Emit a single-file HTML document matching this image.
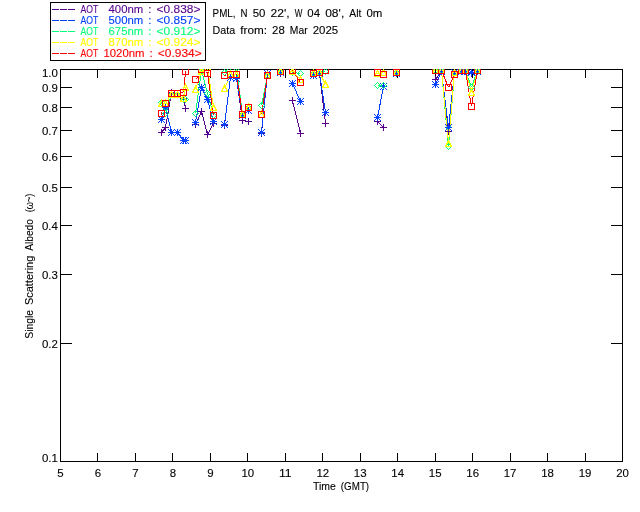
<!DOCTYPE html>
<html><head><meta charset="utf-8"><title>Single Scattering Albedo</title>
<style>html,body{margin:0;padding:0;background:#fff;overflow:hidden}svg{display:block}text{font-family:"Liberation Sans",sans-serif;text-anchor:start}</style></head><body>
<svg width="640" height="512" viewBox="0 0 640 512">
<rect width="640" height="512" fill="#fff"/>
<defs><clipPath id="pc"><rect x="60" y="69" width="563" height="393"/></clipPath></defs>
<path fill="none" stroke="#000" stroke-width="1" shape-rendering="crispEdges" d="M60.5 69.5H622.5V461.5H60.5ZM97.5 69V78M97.5 462V453M135.5 69V78M135.5 462V453M172.5 69V78M172.5 462V453M210.5 69V78M210.5 462V453M247.5 69V78M247.5 462V453M285.5 69V78M285.5 462V453M322.5 69V78M322.5 462V453M360.5 69V78M360.5 462V453M397.5 69V78M397.5 462V453M435.5 69V78M435.5 462V453M472.5 69V78M472.5 462V453M510.5 69V78M510.5 462V453M547.5 69V78M547.5 462V453M585.5 69V78M585.5 462V453M60 343.5H72M623 343.5H611M60 274.5H72M623 274.5H611M60 225.5H72M623 225.5H611M60 187.5H72M623 187.5H611M60 156.5H72M623 156.5H611M60 130.5H72M623 130.5H611M60 107.5H72M623 107.5H611M60 87.5H72M623 87.5H611"/>
<g clip-path="url(#pc)" fill="none" stroke-width="1" shape-rendering="crispEdges">
<path stroke="#56008e" d="M161.5 132.5L165.5 127.5M165.5 127.5L171.5 92.5M171.5 92.5L177.5 94.5M177.5 94.5L183.5 98.5M183.5 98.5L185.5 108.5M195.5 124.5L201.5 111.5M201.5 111.5L207.5 134.5M207.5 134.5L213.5 123.5M224.5 125.5L230.5 77.5M230.5 77.5L236.5 78.5M236.5 78.5L242.5 120.5M242.5 120.5L248.5 121.5M261.5 133.5L267.5 73.5M292.5 100.5L300.5 133.5M313.5 74.5L319.5 73.5M319.5 73.5L325.5 123.5M377.5 121.5L383.5 127.5M435.5 79.5L441.5 71.5M441.5 71.5L448.5 131.5M448.5 131.5L454.5 72.5M454.5 72.5L461.5 71.5M461.5 71.5L465.5 71.5M465.5 71.5L471.5 73.5M471.5 73.5L477.5 71.5"/>
<path stroke="#0040ff" d="M161.5 119.5L165.5 107.5M165.5 107.5L171.5 132.5M171.5 132.5L177.5 132.5M177.5 132.5L183.5 140.5M183.5 140.5L185.5 140.5M195.5 122.5L201.5 87.5M201.5 87.5L207.5 99.5M207.5 99.5L213.5 121.5M224.5 124.5L230.5 77.5M230.5 77.5L236.5 78.5M236.5 78.5L242.5 115.5M242.5 115.5L248.5 110.5M261.5 132.5L267.5 73.5M292.5 83.5L300.5 101.5M313.5 75.5L319.5 73.5M319.5 73.5L325.5 112.5M377.5 117.5L383.5 86.5M435.5 84.5L441.5 71.5M441.5 71.5L448.5 127.5M448.5 127.5L454.5 72.5M454.5 72.5L461.5 71.5M461.5 71.5L465.5 71.5M465.5 71.5L471.5 72.5M471.5 72.5L477.5 71.5"/>
<path stroke="#00ff78" d="M161.5 102.5L165.5 113.5M165.5 113.5L171.5 94.5M171.5 94.5L177.5 94.5M177.5 94.5L183.5 99.5M183.5 99.5L185.5 99.5M195.5 113.5L201.5 70.5M201.5 70.5L207.5 93.5M207.5 93.5L213.5 115.5M224.5 72.5L230.5 66.5M230.5 66.5L236.5 68.5M236.5 68.5L242.5 114.5M242.5 114.5L248.5 107.5M261.5 105.5L267.5 75.5M292.5 72.5L300.5 73.5M313.5 73.5L319.5 72.5M319.5 72.5L325.5 71.5M377.5 85.5L383.5 85.5M435.5 70.5L441.5 70.5M441.5 70.5L448.5 146.5M448.5 146.5L454.5 72.5M454.5 72.5L461.5 70.5M461.5 70.5L465.5 70.5M465.5 70.5L471.5 87.5M471.5 87.5L477.5 70.5"/>
<path stroke="#ffff00" d="M161.5 103.5L165.5 103.5M165.5 103.5L171.5 94.5M171.5 94.5L177.5 94.5M177.5 94.5L183.5 98.5M183.5 98.5L185.5 87.5M195.5 89.5L201.5 71.5M201.5 71.5L207.5 67.5M207.5 67.5L213.5 107.5M224.5 88.5L230.5 74.5M230.5 74.5L236.5 74.5M236.5 74.5L242.5 114.5M242.5 114.5L248.5 107.5M261.5 114.5L267.5 75.5M292.5 71.5L300.5 79.5M313.5 73.5L319.5 72.5M319.5 72.5L325.5 84.5M377.5 73.5L383.5 72.5M435.5 70.5L441.5 70.5M441.5 70.5L448.5 143.5M448.5 143.5L454.5 72.5M454.5 72.5L461.5 70.5M461.5 70.5L465.5 70.5M465.5 70.5L471.5 92.5M471.5 92.5L477.5 70.5"/>
<path stroke="#ff0000" d="M177.5 93.5L183.5 92.5M183.5 92.5L185.5 71.5M207.5 73.5L213.5 115.5M236.5 74.5L242.5 114.5M242.5 114.5L248.5 107.5M261.5 114.5L267.5 75.5M292.5 70.5L300.5 82.5M441.5 70.5L448.5 87.5M448.5 87.5L454.5 74.5M465.5 70.5L471.5 106.5M471.5 106.5L477.5 70.5"/>
<path stroke="#56008e" d="M158 132.5H165M161.5 129V136M162 127.5H169M165.5 124V131M168 92.5H175M171.5 89V96M174 94.5H181M177.5 91V98M180 98.5H187M183.5 95V102M182 108.5H189M185.5 105V112M192 124.5H199M195.5 121V128M198 111.5H205M201.5 108V115M204 134.5H211M207.5 131V138M210 123.5H217M213.5 120V127M221 125.5H228M224.5 122V129M227 77.5H234M230.5 74V81M233 78.5H240M236.5 75V82M239 120.5H246M242.5 117V124M245 121.5H252M248.5 118V125M258 133.5H265M261.5 130V137M264 73.5H271M267.5 70V77M277 73.5H284M280.5 70V77M289 100.5H296M292.5 97V104M297 133.5H304M300.5 130V137M310 74.5H317M313.5 71V78M316 73.5H323M319.5 70V77M322 123.5H329M325.5 120V127M374 121.5H381M377.5 118V125M380 127.5H387M383.5 124V131M393 73.5H400M396.5 70V77M432 79.5H439M435.5 76V83M438 71.5H445M441.5 68V75M445 131.5H452M448.5 128V135M451 72.5H458M454.5 69V76M458 71.5H465M461.5 68V75M462 71.5H469M465.5 68V75M468 73.5H475M471.5 70V77M474 71.5H481M477.5 68V75"/>
<path stroke="#0040ff" d="M158 119.5H165M161.5 116V123M158 116L165 123M158 123L165 116M162 107.5H169M165.5 104V111M162 104L169 111M162 111L169 104M168 132.5H175M171.5 129V136M168 129L175 136M168 136L175 129M174 132.5H181M177.5 129V136M174 129L181 136M174 136L181 129M180 140.5H187M183.5 137V144M180 137L187 144M180 144L187 137M182 140.5H189M185.5 137V144M182 137L189 144M182 144L189 137M192 122.5H199M195.5 119V126M192 119L199 126M192 126L199 119M198 87.5H205M201.5 84V91M198 84L205 91M198 91L205 84M204 99.5H211M207.5 96V103M204 96L211 103M204 103L211 96M210 121.5H217M213.5 118V125M210 118L217 125M210 125L217 118M221 124.5H228M224.5 121V128M221 121L228 128M221 128L228 121M227 77.5H234M230.5 74V81M227 74L234 81M227 81L234 74M233 78.5H240M236.5 75V82M233 75L240 82M233 82L240 75M239 115.5H246M242.5 112V119M239 112L246 119M239 119L246 112M245 110.5H252M248.5 107V114M245 107L252 114M245 114L252 107M258 132.5H265M261.5 129V136M258 129L265 136M258 136L265 129M264 73.5H271M267.5 70V77M264 70L271 77M264 77L271 70M277 72.5H284M280.5 69V76M277 69L284 76M277 76L284 69M289 83.5H296M292.5 80V87M289 80L296 87M289 87L296 80M297 101.5H304M300.5 98V105M297 98L304 105M297 105L304 98M310 75.5H317M313.5 72V79M310 72L317 79M310 79L317 72M316 73.5H323M319.5 70V77M316 70L323 77M316 77L323 70M322 112.5H329M325.5 109V116M322 109L329 116M322 116L329 109M374 117.5H381M377.5 114V121M374 114L381 121M374 121L381 114M380 86.5H387M383.5 83V90M380 83L387 90M380 90L387 83M393 73.5H400M396.5 70V77M393 70L400 77M393 77L400 70M432 84.5H439M435.5 81V88M432 81L439 88M432 88L439 81M438 71.5H445M441.5 68V75M438 68L445 75M438 75L445 68M445 127.5H452M448.5 124V131M445 124L452 131M445 131L452 124M451 72.5H458M454.5 69V76M451 69L458 76M451 76L458 69M458 71.5H465M461.5 68V75M458 68L465 75M458 75L465 68M462 71.5H469M465.5 68V75M462 68L469 75M462 75L469 68M468 72.5H475M471.5 69V76M468 69L475 76M468 76L475 69M474 71.5H481M477.5 68V75M474 68L481 75M474 75L481 68"/>
<path stroke="#00ff78" d="M161.5 99.5L164.5 102.5L161.5 105.5L158.5 102.5ZM165.5 110.5L168.5 113.5L165.5 116.5L162.5 113.5ZM171.5 91.5L174.5 94.5L171.5 97.5L168.5 94.5ZM177.5 91.5L180.5 94.5L177.5 97.5L174.5 94.5ZM183.5 96.5L186.5 99.5L183.5 102.5L180.5 99.5ZM185.5 96.5L188.5 99.5L185.5 102.5L182.5 99.5ZM195.5 110.5L198.5 113.5L195.5 116.5L192.5 113.5ZM201.5 67.5L204.5 70.5L201.5 73.5L198.5 70.5ZM207.5 90.5L210.5 93.5L207.5 96.5L204.5 93.5ZM213.5 112.5L216.5 115.5L213.5 118.5L210.5 115.5ZM224.5 69.5L227.5 72.5L224.5 75.5L221.5 72.5ZM230.5 63.5L233.5 66.5L230.5 69.5L227.5 66.5ZM236.5 65.5L239.5 68.5L236.5 71.5L233.5 68.5ZM242.5 111.5L245.5 114.5L242.5 117.5L239.5 114.5ZM248.5 104.5L251.5 107.5L248.5 110.5L245.5 107.5ZM261.5 102.5L264.5 105.5L261.5 108.5L258.5 105.5ZM267.5 72.5L270.5 75.5L267.5 78.5L264.5 75.5ZM280.5 68.5L283.5 71.5L280.5 74.5L277.5 71.5ZM292.5 69.5L295.5 72.5L292.5 75.5L289.5 72.5ZM300.5 70.5L303.5 73.5L300.5 76.5L297.5 73.5ZM313.5 70.5L316.5 73.5L313.5 76.5L310.5 73.5ZM319.5 69.5L322.5 72.5L319.5 75.5L316.5 72.5ZM325.5 68.5L328.5 71.5L325.5 74.5L322.5 71.5ZM377.5 82.5L380.5 85.5L377.5 88.5L374.5 85.5ZM383.5 82.5L386.5 85.5L383.5 88.5L380.5 85.5ZM396.5 69.5L399.5 72.5L396.5 75.5L393.5 72.5ZM435.5 67.5L438.5 70.5L435.5 73.5L432.5 70.5ZM441.5 67.5L444.5 70.5L441.5 73.5L438.5 70.5ZM448.5 143.5L451.5 146.5L448.5 149.5L445.5 146.5ZM454.5 69.5L457.5 72.5L454.5 75.5L451.5 72.5ZM461.5 67.5L464.5 70.5L461.5 73.5L458.5 70.5ZM465.5 67.5L468.5 70.5L465.5 73.5L462.5 70.5ZM471.5 84.5L474.5 87.5L471.5 90.5L468.5 87.5ZM477.5 67.5L480.5 70.5L477.5 73.5L474.5 70.5Z"/>
<path stroke="#ffff00" d="M161.5 100.5L164.5 106.5L158.5 106.5ZM165.5 100.5L168.5 106.5L162.5 106.5ZM171.5 91.5L174.5 97.5L168.5 97.5ZM177.5 91.5L180.5 97.5L174.5 97.5ZM183.5 95.5L186.5 101.5L180.5 101.5ZM185.5 84.5L188.5 90.5L182.5 90.5ZM195.5 86.5L198.5 92.5L192.5 92.5ZM201.5 68.5L204.5 74.5L198.5 74.5ZM207.5 64.5L210.5 70.5L204.5 70.5ZM213.5 104.5L216.5 110.5L210.5 110.5ZM224.5 85.5L227.5 91.5L221.5 91.5ZM230.5 71.5L233.5 77.5L227.5 77.5ZM236.5 71.5L239.5 77.5L233.5 77.5ZM242.5 111.5L245.5 117.5L239.5 117.5ZM248.5 104.5L251.5 110.5L245.5 110.5ZM261.5 111.5L264.5 117.5L258.5 117.5ZM267.5 72.5L270.5 78.5L264.5 78.5ZM280.5 68.5L283.5 74.5L277.5 74.5ZM292.5 68.5L295.5 74.5L289.5 74.5ZM300.5 76.5L303.5 82.5L297.5 82.5ZM313.5 70.5L316.5 76.5L310.5 76.5ZM319.5 69.5L322.5 75.5L316.5 75.5ZM325.5 81.5L328.5 87.5L322.5 87.5ZM377.5 70.5L380.5 76.5L374.5 76.5ZM383.5 69.5L386.5 75.5L380.5 75.5ZM396.5 69.5L399.5 75.5L393.5 75.5ZM435.5 67.5L438.5 73.5L432.5 73.5ZM441.5 67.5L444.5 73.5L438.5 73.5ZM448.5 140.5L451.5 146.5L445.5 146.5ZM454.5 69.5L457.5 75.5L451.5 75.5ZM461.5 67.5L464.5 73.5L458.5 73.5ZM465.5 67.5L468.5 73.5L462.5 73.5ZM471.5 89.5L474.5 95.5L468.5 95.5ZM477.5 67.5L480.5 73.5L474.5 73.5Z"/>
<path stroke="#ff0000" d="M158.5 110.5H164.5V116.5H158.5ZM162.5 100.5H168.5V106.5H162.5ZM168.5 90.5H174.5V96.5H168.5ZM174.5 90.5H180.5V96.5H174.5ZM180.5 89.5H186.5V95.5H180.5ZM182.5 68.5H188.5V74.5H182.5ZM192.5 76.5H198.5V82.5H192.5ZM198.5 66.5H204.5V72.5H198.5ZM204.5 70.5H210.5V76.5H204.5ZM210.5 112.5H216.5V118.5H210.5ZM221.5 72.5H227.5V78.5H221.5ZM227.5 71.5H233.5V77.5H227.5ZM233.5 71.5H239.5V77.5H233.5ZM239.5 111.5H245.5V117.5H239.5ZM245.5 104.5H251.5V110.5H245.5ZM258.5 111.5H264.5V117.5H258.5ZM264.5 72.5H270.5V78.5H264.5ZM277.5 68.5H283.5V74.5H277.5ZM289.5 67.5H295.5V73.5H289.5ZM297.5 79.5H303.5V85.5H297.5ZM310.5 70.5H316.5V76.5H310.5ZM316.5 69.5H322.5V75.5H316.5ZM322.5 67.5H328.5V73.5H322.5ZM374.5 69.5H380.5V75.5H374.5ZM380.5 71.5H386.5V77.5H380.5ZM393.5 69.5H399.5V75.5H393.5ZM432.5 67.5H438.5V73.5H432.5ZM438.5 67.5H444.5V73.5H438.5ZM445.5 84.5H451.5V90.5H445.5ZM451.5 71.5H457.5V77.5H451.5ZM458.5 67.5H464.5V73.5H458.5ZM462.5 67.5H468.5V73.5H462.5ZM468.5 103.5H474.5V109.5H468.5ZM474.5 67.5H480.5V73.5H474.5Z"/>
<path stroke="#ff0000" d="M195.5 79.5L197.5 77.5M206 72.5H208.5M224 75.5H226M161.5 112V115"/>
</g>
<g transform="translate(60.5 477)" fill="#000" stroke="#000" stroke-width="0.1" font-size="10.4"><text x="-3.18" y="0" textLength="6.36" lengthAdjust="spacingAndGlyphs">5</text></g>
<g transform="translate(97.97 477)" fill="#000" stroke="#000" stroke-width="0.1" font-size="10.4"><text x="-3.18" y="0" textLength="6.36" lengthAdjust="spacingAndGlyphs">6</text></g>
<g transform="translate(135.43 477)" fill="#000" stroke="#000" stroke-width="0.1" font-size="10.4"><text x="-3.18" y="0" textLength="6.36" lengthAdjust="spacingAndGlyphs">7</text></g>
<g transform="translate(172.9 477)" fill="#000" stroke="#000" stroke-width="0.1" font-size="10.4"><text x="-3.18" y="0" textLength="6.36" lengthAdjust="spacingAndGlyphs">8</text></g>
<g transform="translate(210.37 477)" fill="#000" stroke="#000" stroke-width="0.1" font-size="10.4"><text x="-3.18" y="0" textLength="6.36" lengthAdjust="spacingAndGlyphs">9</text></g>
<g transform="translate(247.83 477)" fill="#000" stroke="#000" stroke-width="0.1" font-size="10.4"><text x="-6.36" y="0" textLength="12.72" lengthAdjust="spacingAndGlyphs">10</text></g>
<g transform="translate(285.3 477)" fill="#000" stroke="#000" stroke-width="0.1" font-size="10.4"><text x="-6.36" y="0" textLength="12.72" lengthAdjust="spacingAndGlyphs">11</text></g>
<g transform="translate(322.77 477)" fill="#000" stroke="#000" stroke-width="0.1" font-size="10.4"><text x="-6.36" y="0" textLength="12.72" lengthAdjust="spacingAndGlyphs">12</text></g>
<g transform="translate(360.23 477)" fill="#000" stroke="#000" stroke-width="0.1" font-size="10.4"><text x="-6.36" y="0" textLength="12.72" lengthAdjust="spacingAndGlyphs">13</text></g>
<g transform="translate(397.7 477)" fill="#000" stroke="#000" stroke-width="0.1" font-size="10.4"><text x="-6.36" y="0" textLength="12.72" lengthAdjust="spacingAndGlyphs">14</text></g>
<g transform="translate(435.17 477)" fill="#000" stroke="#000" stroke-width="0.1" font-size="10.4"><text x="-6.36" y="0" textLength="12.72" lengthAdjust="spacingAndGlyphs">15</text></g>
<g transform="translate(472.63 477)" fill="#000" stroke="#000" stroke-width="0.1" font-size="10.4"><text x="-6.36" y="0" textLength="12.72" lengthAdjust="spacingAndGlyphs">16</text></g>
<g transform="translate(510.1 477)" fill="#000" stroke="#000" stroke-width="0.1" font-size="10.4"><text x="-6.36" y="0" textLength="12.72" lengthAdjust="spacingAndGlyphs">17</text></g>
<g transform="translate(547.57 477)" fill="#000" stroke="#000" stroke-width="0.1" font-size="10.4"><text x="-6.36" y="0" textLength="12.72" lengthAdjust="spacingAndGlyphs">18</text></g>
<g transform="translate(585.03 477)" fill="#000" stroke="#000" stroke-width="0.1" font-size="10.4"><text x="-6.36" y="0" textLength="12.72" lengthAdjust="spacingAndGlyphs">19</text></g>
<g transform="translate(622.5 477)" fill="#000" stroke="#000" stroke-width="0.1" font-size="10.4"><text x="-6.36" y="0" textLength="12.72" lengthAdjust="spacingAndGlyphs">20</text></g>
<g transform="translate(57.8 462)" fill="#000" stroke="#000" stroke-width="0.1" font-size="10.4"><text x="-15.9" y="0" textLength="15.9" lengthAdjust="spacingAndGlyphs">0.1</text></g>
<g transform="translate(57.8 348)" fill="#000" stroke="#000" stroke-width="0.1" font-size="10.4"><text x="-15.9" y="0" textLength="15.9" lengthAdjust="spacingAndGlyphs">0.2</text></g>
<g transform="translate(57.8 279)" fill="#000" stroke="#000" stroke-width="0.1" font-size="10.4"><text x="-15.9" y="0" textLength="15.9" lengthAdjust="spacingAndGlyphs">0.3</text></g>
<g transform="translate(57.8 230)" fill="#000" stroke="#000" stroke-width="0.1" font-size="10.4"><text x="-15.9" y="0" textLength="15.9" lengthAdjust="spacingAndGlyphs">0.4</text></g>
<g transform="translate(57.8 192)" fill="#000" stroke="#000" stroke-width="0.1" font-size="10.4"><text x="-15.9" y="0" textLength="15.9" lengthAdjust="spacingAndGlyphs">0.5</text></g>
<g transform="translate(57.8 161)" fill="#000" stroke="#000" stroke-width="0.1" font-size="10.4"><text x="-15.9" y="0" textLength="15.9" lengthAdjust="spacingAndGlyphs">0.6</text></g>
<g transform="translate(57.8 135)" fill="#000" stroke="#000" stroke-width="0.1" font-size="10.4"><text x="-15.9" y="0" textLength="15.9" lengthAdjust="spacingAndGlyphs">0.7</text></g>
<g transform="translate(57.8 112)" fill="#000" stroke="#000" stroke-width="0.1" font-size="10.4"><text x="-15.9" y="0" textLength="15.9" lengthAdjust="spacingAndGlyphs">0.8</text></g>
<g transform="translate(57.8 92)" fill="#000" stroke="#000" stroke-width="0.1" font-size="10.4"><text x="-15.9" y="0" textLength="15.9" lengthAdjust="spacingAndGlyphs">0.9</text></g>
<g transform="translate(57.8 77)" fill="#000" stroke="#000" stroke-width="0.1" font-size="10.4"><text x="-15.9" y="0" textLength="15.9" lengthAdjust="spacingAndGlyphs">1.0</text></g>
<g transform="translate(341 490)" fill="#000" stroke="#000" stroke-width="0.1" font-size="10.4"><text x="-28.14" y="0" textLength="22.9" lengthAdjust="spacingAndGlyphs">Time</text><text x="-0.16" y="0" textLength="28.3" lengthAdjust="spacingAndGlyphs">(GMT)</text></g>
<g transform="translate(33.3 338.7) rotate(-90)" fill="#000" stroke="#000" stroke-width="0.1" font-size="10.4"><text x="0" y="0" textLength="28.7" lengthAdjust="spacingAndGlyphs">Single</text><text x="33.7" y="0" textLength="49.3" lengthAdjust="spacingAndGlyphs">Scattering</text><text x="87.98" y="0" textLength="31.51" lengthAdjust="spacingAndGlyphs">Albedo</text></g>
<g transform="translate(33.3 212.3) rotate(-90)" fill="#000" stroke="#000" stroke-width="0.1" font-size="10.4"><text x="0" y="0" textLength="18.72" lengthAdjust="spacingAndGlyphs">(ω~)</text></g>
<g transform="translate(212.6 17)" fill="#000" stroke="#000" stroke-width="0.1" font-size="10.4"><text x="0" y="0" textLength="22.9" lengthAdjust="spacingAndGlyphs">PML,</text><text x="27.98" y="0" textLength="7" lengthAdjust="spacingAndGlyphs">N</text><text x="40.07" y="0" textLength="12.72" lengthAdjust="spacingAndGlyphs">50</text><text x="57.88" y="0" textLength="19.08" lengthAdjust="spacingAndGlyphs">22&#x27;,</text><text x="82.04" y="0" textLength="7.63" lengthAdjust="spacingAndGlyphs">W</text><text x="94.76" y="0" textLength="12.72" lengthAdjust="spacingAndGlyphs">04</text><text x="112.57" y="0" textLength="19.08" lengthAdjust="spacingAndGlyphs">08&#x27;,</text><text x="136.74" y="0" textLength="12.08" lengthAdjust="spacingAndGlyphs">Alt</text><text x="153.91" y="0" textLength="15.9" lengthAdjust="spacingAndGlyphs">0m</text></g>
<g transform="translate(212.6 34)" fill="#000" stroke="#000" stroke-width="0.1" font-size="10.4"><text x="0" y="0" textLength="22.58" lengthAdjust="spacingAndGlyphs">Data</text><text x="27.67" y="0" textLength="26.71" lengthAdjust="spacingAndGlyphs">from:</text><text x="59.47" y="0" textLength="12.72" lengthAdjust="spacingAndGlyphs">28</text><text x="77.27" y="0" textLength="17.81" lengthAdjust="spacingAndGlyphs">Mar</text><text x="100.17" y="0" textLength="25.44" lengthAdjust="spacingAndGlyphs">2025</text></g>
<path fill="none" stroke="#000" stroke-width="1" shape-rendering="crispEdges" d="M50.5 2.5H205.5V60.5H50.5Z"/>
<path fill="none" stroke="#56008e" stroke-width="1" shape-rendering="crispEdges" d="M52 9.5H59M60 9.5H67M68 9.5H75"/>
<g transform="translate(80.59 13)" fill="#56008e" stroke="#56008e" stroke-width="0.1" font-size="10.4"><text x="0" y="0" textLength="17.81" lengthAdjust="spacingAndGlyphs">AOT</text><text x="27.98" y="0" textLength="34.66" lengthAdjust="spacingAndGlyphs">400nm</text><text x="67.73" y="0" textLength="3.18" lengthAdjust="spacingAndGlyphs">:</text><text x="76" y="0" textLength="43.88" lengthAdjust="spacingAndGlyphs">&lt;0.838&gt;</text></g>
<path fill="none" stroke="#0040ff" stroke-width="1" shape-rendering="crispEdges" d="M52 20.5H59M60 20.5H67M68 20.5H75"/>
<g transform="translate(80.59 24)" fill="#0040ff" stroke="#0040ff" stroke-width="0.1" font-size="10.4"><text x="0" y="0" textLength="17.81" lengthAdjust="spacingAndGlyphs">AOT</text><text x="27.98" y="0" textLength="34.66" lengthAdjust="spacingAndGlyphs">500nm</text><text x="67.73" y="0" textLength="3.18" lengthAdjust="spacingAndGlyphs">:</text><text x="76" y="0" textLength="43.88" lengthAdjust="spacingAndGlyphs">&lt;0.857&gt;</text></g>
<path fill="none" stroke="#00ff78" stroke-width="1" shape-rendering="crispEdges" d="M52 31.5H59M60 31.5H67M68 31.5H75"/>
<g transform="translate(80.59 35)" fill="#00ff78" stroke="#00ff78" stroke-width="0.1" font-size="10.4"><text x="0" y="0" textLength="17.81" lengthAdjust="spacingAndGlyphs">AOT</text><text x="27.98" y="0" textLength="34.66" lengthAdjust="spacingAndGlyphs">675nm</text><text x="67.73" y="0" textLength="3.18" lengthAdjust="spacingAndGlyphs">:</text><text x="76" y="0" textLength="43.88" lengthAdjust="spacingAndGlyphs">&lt;0.912&gt;</text></g>
<path fill="none" stroke="#ffff00" stroke-width="1" shape-rendering="crispEdges" d="M52 42.5H59M60 42.5H67M68 42.5H75"/>
<g transform="translate(80.59 46)" fill="#ffff00" stroke="#ffff00" stroke-width="0.1" font-size="10.4"><text x="0" y="0" textLength="17.81" lengthAdjust="spacingAndGlyphs">AOT</text><text x="27.98" y="0" textLength="34.66" lengthAdjust="spacingAndGlyphs">870nm</text><text x="67.73" y="0" textLength="3.18" lengthAdjust="spacingAndGlyphs">:</text><text x="76" y="0" textLength="43.88" lengthAdjust="spacingAndGlyphs">&lt;0.924&gt;</text></g>
<path fill="none" stroke="#ff0000" stroke-width="1" shape-rendering="crispEdges" d="M52 53.5H59M60 53.5H67M68 53.5H75"/>
<g transform="translate(80.59 57)" fill="#ff0000" stroke="#ff0000" stroke-width="0.1" font-size="10.4"><text x="0" y="0" textLength="17.81" lengthAdjust="spacingAndGlyphs">AOT</text><text x="22.9" y="0" textLength="41.02" lengthAdjust="spacingAndGlyphs">1020nm</text><text x="69.01" y="0" textLength="3.18" lengthAdjust="spacingAndGlyphs">:</text><text x="77.27" y="0" textLength="43.88" lengthAdjust="spacingAndGlyphs">&lt;0.934&gt;</text></g>
</svg></body></html>
